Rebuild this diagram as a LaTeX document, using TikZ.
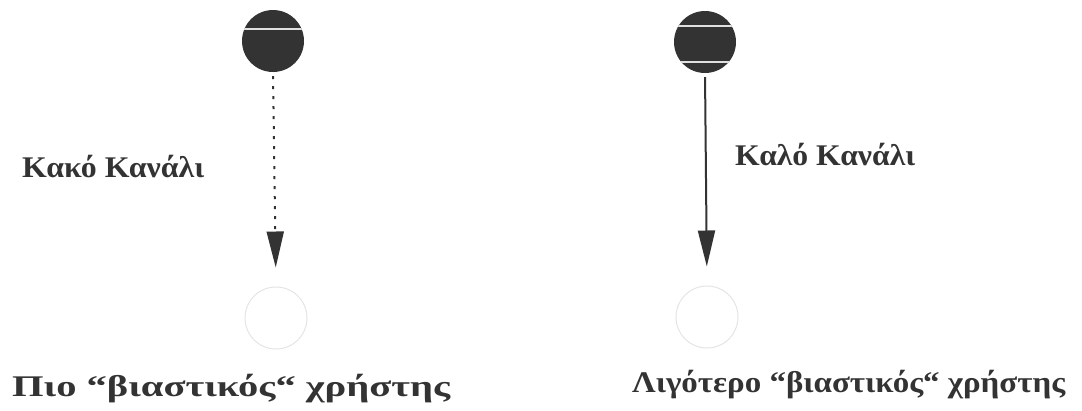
\documentclass[tikz,border=0pt]{standalone}
\usepackage{fontspec}
\setmainfont{Liberation Serif}
\usepackage{graphicx}
\usetikzlibrary{arrows.meta}
\definecolor{dark}{HTML}{333333}
\definecolor{faint}{HTML}{E4E4E4}
\tikzset{
  user/.style={circle,fill=dark,minimum size=62pt,inner sep=0pt},
  ghost/.style={circle,draw=faint,line width=1pt,minimum size=62pt,inner sep=0pt},
  lbl/.style={inner sep=0pt,font=\fontsize{30}{36}\selectfont\bfseries,text=dark},
  link/.style={draw=dark,line width=2pt,-{Triangle[width=17pt,length=36pt]},shorten <=4pt,shorten >=19pt},
  stripe/.style={draw=white!85!dark,line width=1.4pt}
}
\begin{document}
\begin{tikzpicture}[x=1pt,y=-1pt]
\useasboundingbox (0,0) rectangle (1082,410);
\node[user] (a1) at (273,41) {};
\node[user] (b1) at (705,42) {};
\node[ghost] (a2) at (276,318) {};
\node[ghost] (b2) at (707,317) {};
\begin{scope}
\clip (273,41) circle (31pt);
\draw[stripe] (240,29) -- (306,29);
\end{scope}
\begin{scope}
\clip (705,42) circle (31pt);
\draw[stripe] (672,26) -- (738,26);
\draw[stripe] (672,62) -- (738,62);
\end{scope}
\draw[link,dash pattern=on 3pt off 7pt] (a1.south) -- (a2.north);
\draw[link] (b1.south) -- (b2.north);
\node[lbl,anchor=base west] (t1) at (22,177) {\resizebox{182pt}{\height}{Κακό Κανάλι}};
\node[lbl,anchor=base west] (t2) at (735,165) {\resizebox{180pt}{\height}{Καλό Κανάλι}};
\node[lbl,anchor=base west] (t3) at (12,396) {\resizebox{438pt}{\height}{Πιο “βιαστικός“ χρήστης}};
\node[lbl,anchor=base west] (t4) at (632,392) {\resizebox{433pt}{\height}{Λιγότερο “βιαστικός“ χρήστης}};
\end{tikzpicture}
\end{document}
